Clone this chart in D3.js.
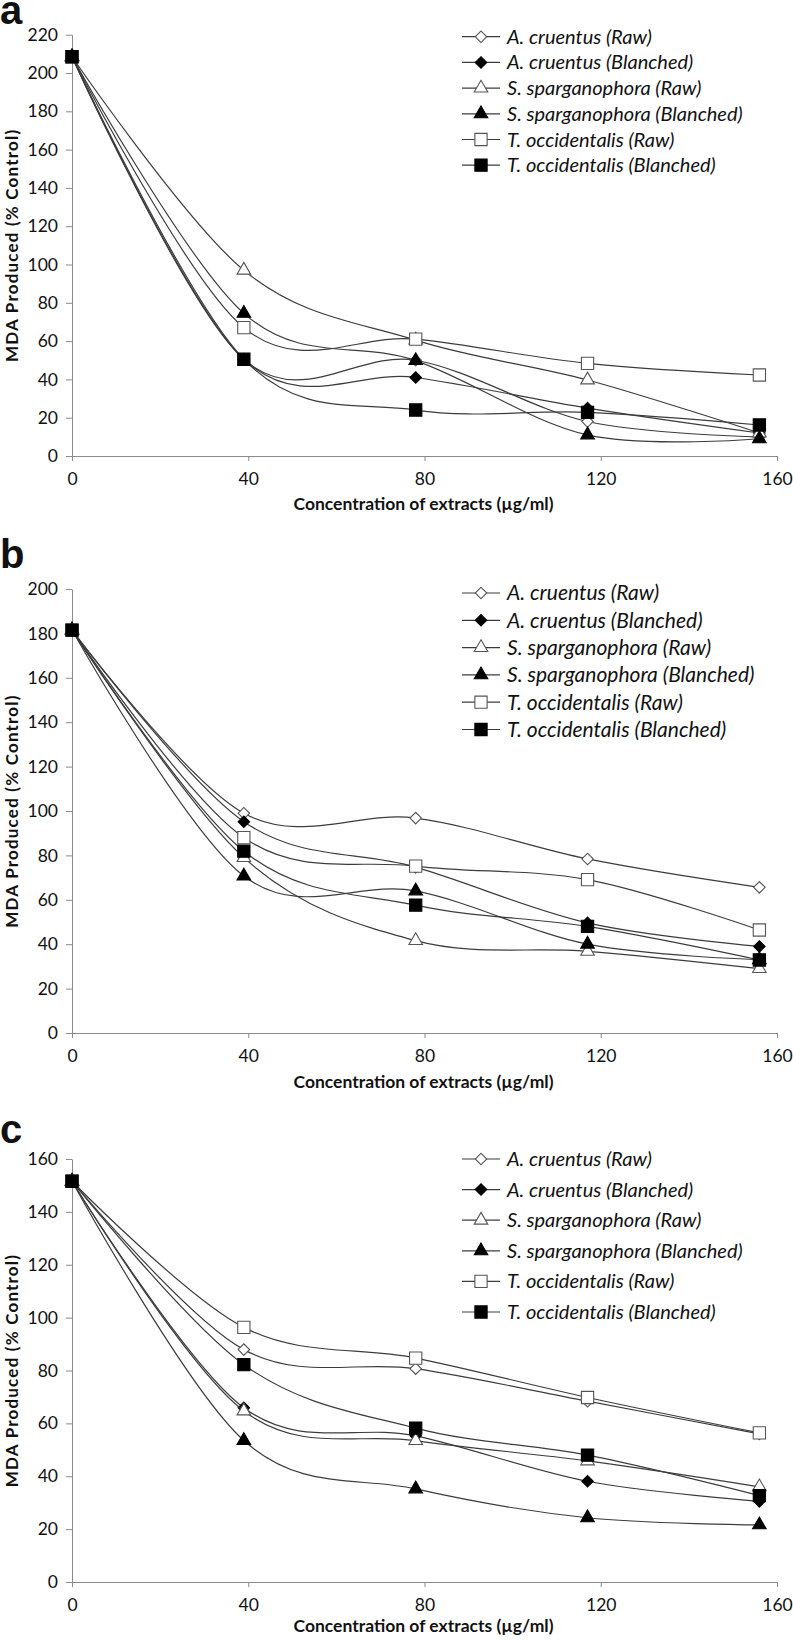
<!DOCTYPE html>
<html>
<head>
<meta charset="utf-8">
<script src="https://cdn.jsdelivr.net/npm/d3@7"></script>
<style>
  body { margin: 0; background: #fff; }
  text { font-family: Lato, "Open Sans", sans-serif; fill: #111; }
</style>
</head>
<body>
<script>
// concentrations (ug/ml) and axis ticks
const concentrations = [0, 39, 78, 117, 156];
const xTicks = [0, 40, 80, 120, 160];

const seriesNames = [
  "A. cruentus (Raw)",
  "A. cruentus (Blanched)",
  "S. sparganophora (Raw)",
  "S. sparganophora (Blanched)",
  "T. occidentalis (Raw)",
  "T. occidentalis (Blanched)"
];
const markerShapes = ["diamond", "diamond", "triangle", "triangle", "square", "square"];
const markerFilled = [false, true, false, true, false, true];

// MDA produced (% control), one row per series, legend order
const valuesA = [
  [208.5, 50.5, 50, 18, 10],
  [208.5, 50.5, 41, 25, 12],
  [208.5, 97, 60.5, 39.7, 12],
  [208.5, 74.5, 49.8, 11, 9],
  [208.5, 67, 61, 48.4, 42.3],
  [208.5, 50.5, 24, 22.8, 16.2]
];
const valuesB = [
  [181.5, 99, 96.8, 78.4, 65.6],
  [181.5, 95.2, 74.7, 49.6, 39],
  [181.5, 79, 41.6, 36.8, 29],
  [181.5, 70.7, 64, 40, 33],
  [181.5, 88, 75.2, 69.1, 46.4],
  [181.5, 81.9, 57.6, 48, 32.9]
];
const valuesC = [
  [151.6, 87.9, 80.7, 68.4, 56],
  [151.6, 65.9, 55.3, 38.1, 30.5],
  [151.6, 64.7, 53.5, 45.8, 36],
  [151.6, 53.5, 35.2, 24.3, 21.6],
  [151.6, 96.3, 84.7, 69.8, 56.4],
  [151.6, 82.2, 58.2, 48, 32.7]
];
const panelLetters = ["a", "b", "c"];
const yMaxes = [220, 200, 160];
const yTitle = "MDA Produced (% Control)";
const xTitle = "Concentration of extracts (\u00b5g/ml)";

const width = 793, height = 1641;
const plotLeft = 72, plotRight = 777;

// pixel layout of each panel
const layout = [
  { top: 34.7, bottom: 456, letterY: 24, legendY: 36.7, legendStep: 25.7, legendSize: 20, titleGap: 48 },
  { top: 589, bottom: 1033, letterY: 568, legendY: 593, legendStep: 27.3, legendSize: 21, titleGap: 49 },
  { top: 1159, bottom: 1582, letterY: 1143, legendY: 1159, legendStep: 30.6, legendSize: 20, titleGap: 44 }
];
const allValues = [valuesA, valuesB, valuesC];

const svg = d3.select("body")
  .append("svg")
  .attr("width", width)
  .attr("height", height);

const x = d3.scaleLinear().domain([0, 160]).range([plotLeft, plotRight]);

function markerPath(shape) {
  if (shape === "square") return d3.symbol(d3.symbolSquare, 150)();
  if (shape === "triangle") return d3.symbol(d3.symbolTriangle, 80)();
  // diamond = square turned 45 degrees
  return d3.symbol(d3.symbolSquare, 66)();
}

function drawMarker(g, shape, filled, cx, cy) {
  g.append("path")
    .attr("d", markerPath(shape))
    .attr("transform", `translate(${cx},${cy})` + (shape === "diamond" ? " rotate(45)" : ""))
    .attr("fill", filled ? "#000" : "#fff")
    .attr("stroke", filled ? "#000" : "#555")
    .attr("stroke-width", 1.1);
}

const line = d3.line().curve(d3.curveCatmullRom.alpha(0));

layout.forEach((L, p) => {
  const values = allValues[p];
  const g = svg.append("g");
  const y = d3.scaleLinear().domain([0, yMaxes[p]]).range([L.bottom, L.top]);

  // panel letter
  g.append("text")
    .attr("x", 0)
    .attr("y", L.letterY)
    .style("font-family", "'Liberation Sans', Arial, sans-serif")
    .style("font-weight", "bold")
    .style("font-size", "40px")
    .text(panelLetters[p]);

  // axes
  const yAxis = g.append("g")
    .attr("transform", `translate(${plotLeft},0)`)
    .call(d3.axisLeft(y).tickValues(d3.range(0, yMaxes[p] + 1, 20)).tickSize(6).tickSizeOuter(0).tickPadding(8));
  const xAxis = g.append("g")
    .attr("transform", `translate(0,${L.bottom})`)
    .call(d3.axisBottom(x).tickValues(xTicks).tickSize(5).tickSizeOuter(0).tickPadding(12));
  [yAxis, xAxis].forEach(a => {
    a.select(".domain").attr("stroke", "#8a8a8a");
    a.selectAll(".tick line").attr("stroke", "#8a8a8a");
    a.selectAll(".tick text")
      .style("font-family", "Lato, sans-serif")
      .style("font-size", "17.5px")
      .attr("fill", "#111");
  });

  // axis titles
  g.append("text")
    .attr("transform", `translate(12,${(L.top + L.bottom) / 2}) rotate(-90)`)
    .attr("text-anchor", "middle")
    .attr("dy", "0.35em")
    .style("font-weight", "bold")
    .style("font-size", "17px")
    .style("letter-spacing", "1.2px")
    .text(yTitle);
  g.append("text")
    .attr("x", (plotLeft + plotRight) / 2 - 1)
    .attr("y", L.bottom + L.titleGap)
    .attr("text-anchor", "middle")
    .attr("dy", "0.35em")
    .style("font-weight", "bold")
    .style("font-size", "17.5px")
    .text(xTitle);

  // series: smoothed line then markers
  values.forEach((row, i) => {
    const pts = row.map((v, j) => [x(concentrations[j]), y(v)]);
    g.append("path")
      .attr("d", line(pts))
      .attr("fill", "none")
      .attr("stroke", "#3c3c3c")
      .attr("stroke-width", 1.2);
    pts.forEach(pt => drawMarker(g, markerShapes[i], markerFilled[i], pt[0], pt[1]));
  });

  // legend
  const lg = g.append("g");
  seriesNames.forEach((name, i) => {
    const ly = L.legendY + i * L.legendStep;
    lg.append("line")
      .attr("x1", 462).attr("x2", 500)
      .attr("y1", ly).attr("y2", ly)
      .attr("stroke", "#3c3c3c")
      .attr("stroke-width", 1.2);
    drawMarker(lg, markerShapes[i], markerFilled[i], 481, ly);
    lg.append("text")
      .attr("x", 507)
      .attr("y", ly)
      .attr("dy", "0.35em")
      .style("font-style", "italic")
      .style("font-size", L.legendSize + "px")
      .text(name);
  });
});
</script>
</body>
</html>
